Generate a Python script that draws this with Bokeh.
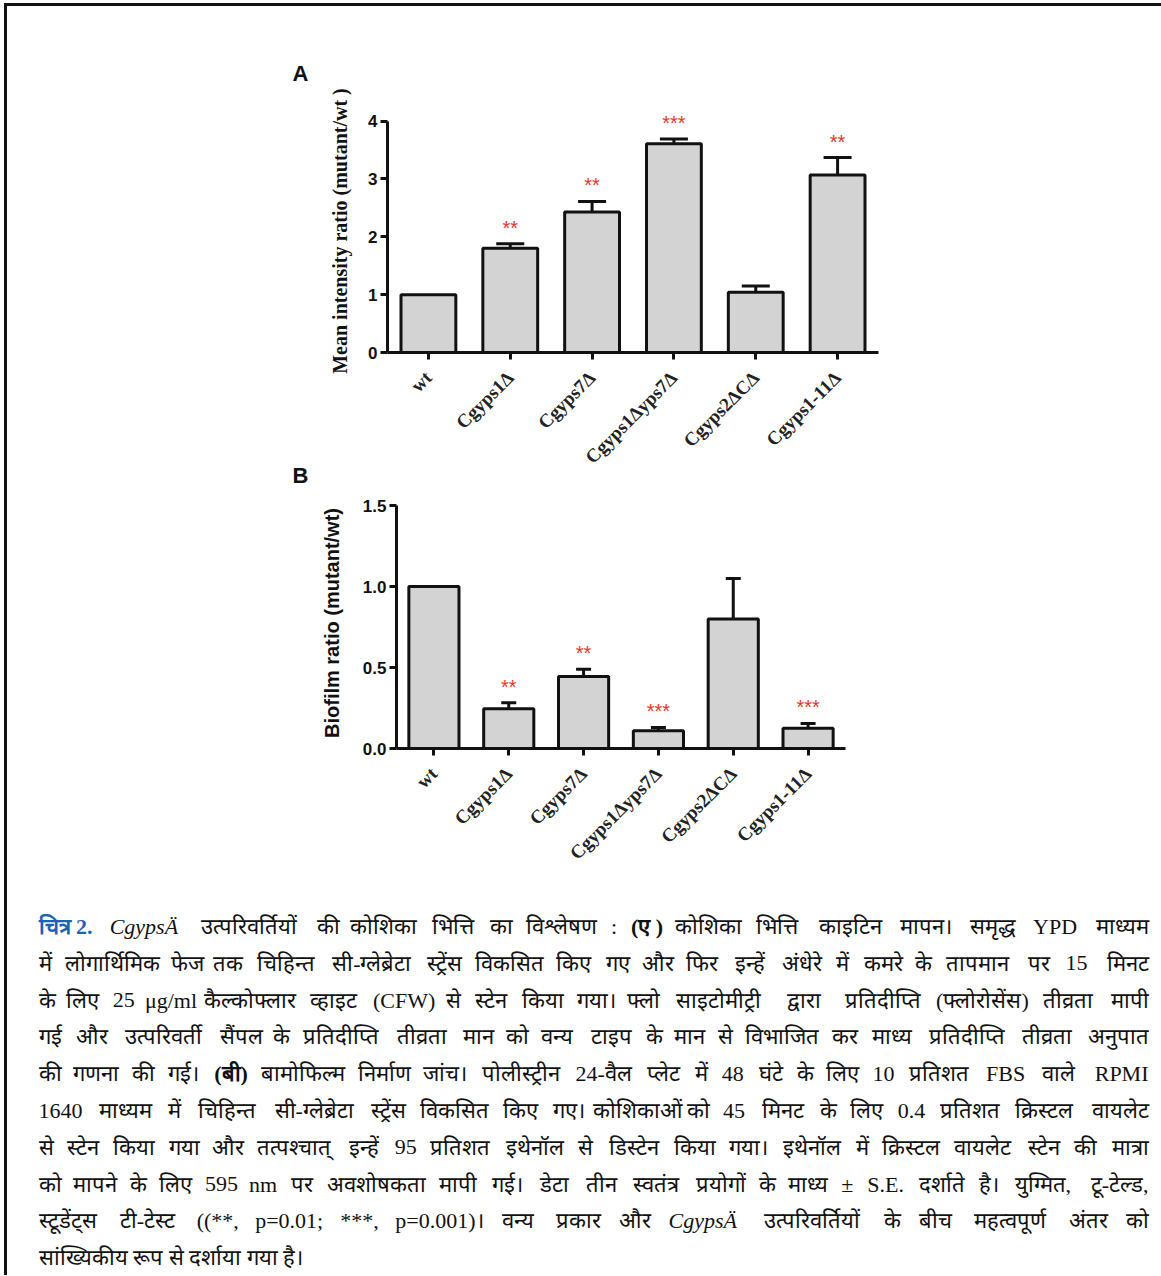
import math
import unicodedata
from bokeh.plotting import figure
from bokeh.models import (ColumnDataSource, FactorRange, Range1d, FixedTicker,
                          Whisker, TeeHead, Title, NumeralTickFormatter)
from bokeh.embed import file_html
from bokeh.resources import INLINE
from bokeh.core.properties import value

# ---------------- data ----------------
strains = ["wt", "Cgyps1Δ", "Cgyps7Δ", "Cgyps1Δyps7Δ", "Cgyps2ΔCΔ", "Cgyps1-11Δ"]

chitin_mean = [1.00, 1.80, 2.43, 3.61, 1.04, 3.07]
chitin_se = [0.0, 0.08, 0.18, 0.08, 0.11, 0.30]
chitin_sig = ["", "**", "**", "***", "", "**"]
chitin_ticks = [0, 1, 2, 3, 4]

biofilm_mean = [1.00, 0.245, 0.445, 0.11, 0.80, 0.125]
biofilm_se = [0.0, 0.037, 0.044, 0.02, 0.25, 0.03]
biofilm_sig = ["", "**", "**", "***", "", "***"]
biofilm_ticks = [0.0, 0.5, 1.0, 1.5]

# caption lines: (text, style) segments; all but the last line are justified
cap_lines = [
    [("चित्र\u00a02.", "blue"), ("CgypsÄ", "italic"),
     ("उत्परिवर्तियों की कोशिका भित्ति का विश्लेषण :", "normal"), ("(ए\u00a0)", "bold"),
     ("कोशिका भित्ति काइटिन मापन। समृद्ध YPD माध्यम", "normal")],
    [("में लोगार्थिमिक फेज तक चिहिन्त सी-ग्लेब्रेटा स्ट्रेंस विकसित किए गए और फिर इन्हें अंधेरे में कमरे के तापमान पर 15 मिनट", "normal")],
    [("के लिए 25 μg/ml कैल्कोफ्लार व्हाइट (CFW) से स्टेन किया गया। फ्लो साइटोमीट्री द्वारा प्रतिदीप्ति (फ्लोरोसेंस) तीव्रता मापी", "normal")],
    [("गई और उत्परिवर्ती सैंपल के प्रतिदीप्ति तीव्रता मान को वन्य टाइप के मान से विभाजित कर माध्य प्रतिदीप्ति तीव्रता अनुपात", "normal")],
    [("की गणना की गई।", "normal"), ("(बी)", "bold"),
     ("बामोफिल्म निर्माण जांच। पोलीस्ट्रीन 24-वैल प्लेट में 48 घंटे के लिए 10 प्रतिशत FBS वाले RPMI", "normal")],
    [("1640 माध्यम में चिहिन्त सी-ग्लेब्रेटा स्ट्रेंस विकसित किए गए। कोशिकाओं को 45 मिनट के लिए 0.4 प्रतिशत क्रिस्टल वायलेट", "normal")],
    [("से स्टेन किया गया और तत्पश्चात् इन्हें 95 प्रतिशत इथेनॉल से डिस्टेन किया गया। इथेनॉल में क्रिस्टल वायलेट स्टेन की मात्रा", "normal")],
    [("को मापने के लिए 595 nm पर अवशोषकता मापी गई। डेटा तीन स्वतंत्र प्रयोगों के माध्य ± S.E. दर्शाते है। युग्मित, टू-टेल्ड,", "normal")],
    [("स्टूडेंट्स टी-टेस्ट ((**, p=0.01; ***, p=0.001)। वन्य प्रकार और", "normal"), ("CgypsÄ", "italic"),
     ("उत्परिवर्तियों के बीच महत्वपूर्ण अंतर को", "normal")],
    [("सांख्यिकीय रूप से दर्शाया गया है।", "normal")],
]

W = 1161
INK = "#111111"
FRAME_TOP = "inset 4px 3px 0 0 #ffffff, inset 7px 6px 0 0 #111111"
FRAME_LEFT = "inset 4px 0 0 0 #ffffff, inset 7px 0 0 0 #111111"


def bar_panel(letter, ylabel, ylabel_font, ylabel_size, means, ses, sigs, ticks,
              y_top, height, b_left, b_top, b_bottom, frame_w, cap_size, err_w,
              title_standoff, title_offset, label_standoff, fmt, styles):
    b_right = W - b_left - frame_w
    p = figure(x_range=FactorRange(factors=strains), y_range=Range1d(0, y_top),
               width=W, height=height, min_border_left=b_left, min_border_right=b_right,
               min_border_top=b_top, min_border_bottom=b_bottom,
               output_backend="svg", toolbar_location=None, tools="",
               styles=styles)
    p.background_fill_color = None
    p.border_fill_color = None
    p.outline_line_color = None
    p.xgrid.visible = False
    p.ygrid.visible = False

    src = ColumnDataSource(dict(
        x=strains, top=means,
        upper=[m + s for m, s in zip(means, ses)],
        sig=sigs))
    p.vbar(x="x", top="top", width=0.67, source=src, fill_color="#d3d3d3",
           line_color=INK, line_width=3)

    idx = [i for i, s in enumerate(ses) if s > 0]
    wsrc = ColumnDataSource(dict(
        x=[strains[i] for i in idx],
        upper=[means[i] + ses[i] for i in idx],
        lower=[means[i] - ses[i] for i in idx]))
    p.add_layout(Whisker(source=wsrc, base="x", upper="upper", lower="lower",
                         line_color=INK, line_width=err_w,
                         upper_head=TeeHead(size=cap_size, line_width=err_w, line_color=INK),
                         lower_head=TeeHead(size=cap_size, line_width=err_w, line_color=INK)))

    p.text(x="x", y="upper", text="sig", source=src, text_align="center",
           text_baseline="middle", text_color="#e5392e",
           text_font=value("Liberation Sans"), text_font_size="20px", y_offset=-16)

    ya = p.yaxis[0]
    ya.ticker = FixedTicker(ticks=ticks)
    ya.bounds = (0, ticks[-1])
    ya.formatter = fmt
    ya.minor_tick_line_color = None
    ya.major_tick_in = 0
    ya.major_tick_out = 7
    ya.major_tick_line_width = 3
    ya.major_tick_line_color = INK
    ya.axis_line_width = 3
    ya.axis_line_color = INK
    ya.major_label_standoff = 3
    ya.major_label_text_font = "Liberation Sans"
    ya.major_label_text_font_style = "bold"
    ya.major_label_text_font_size = "17px"
    ya.major_label_text_color = INK
    ya.axis_label = ylabel
    ya.axis_label_text_font = ylabel_font
    ya.axis_label_text_font_style = "bold"
    ya.axis_label_text_font_size = ylabel_size
    ya.axis_label_text_color = INK
    ya.axis_label_standoff = label_standoff

    xa = p.xaxis[0]
    xa.axis_line_width = 3
    xa.axis_line_color = INK
    xa.major_tick_in = 0
    xa.major_tick_out = 7
    xa.major_tick_line_width = 3
    xa.major_tick_line_color = INK
    xa.major_label_orientation = math.pi / 4
    xa.major_label_standoff = 15
    xa.major_label_text_font = "Liberation Serif"
    xa.major_label_text_font_style = "bold"
    xa.major_label_text_font_size = "19px"
    xa.major_label_text_color = "#222222"

    p.add_layout(Title(text=letter, align="left", offset=title_offset,
                       standoff=title_standoff, text_font="Liberation Sans",
                       text_font_style="bold", text_font_size="22px",
                       text_color=INK), "above")
    return p


pa = bar_panel("A", "Mean intensity ratio (mutant/wt )", "Liberation Serif", "20px",
               chitin_mean, chitin_se, chitin_sig, chitin_ticks,
               y_top=4.2, height=477, b_left=387, b_top=109, b_bottom=124, frame_w=491,
               cap_size=28, err_w=3, title_standoff=47, title_offset=-95,
               label_standoff=14, fmt=NumeralTickFormatter(format="0"),
               styles={"box-shadow": FRAME_TOP})

pb = bar_panel("B", "Biofilm ratio (mutant/wt)", "Liberation Sans", "20px",
               biofilm_mean, biofilm_se, biofilm_sig, biofilm_ticks,
               y_top=1.55, height=429, b_left=396, b_top=42, b_bottom=132, frame_w=449,
               cap_size=15, err_w=3, title_standoff=19, title_offset=-104,
               label_standoff=17, fmt=NumeralTickFormatter(format="0.0"),
               styles={"margin-top": "-26px", "box-shadow": FRAME_LEFT})

# ---------------- caption ----------------
CAP_TOP = 880
CAP_H = 395
pc = figure(width=W, height=CAP_H, x_range=Range1d(0, W), y_range=Range1d(CAP_TOP + CAP_H, CAP_TOP),
            min_border=0, x_axis_location=None, y_axis_location=None,
            output_backend="svg", toolbar_location=None, tools="",
            styles={"box-shadow": FRAME_LEFT})
pc.outline_line_color = None
pc.xgrid.visible = False
pc.ygrid.visible = False
pc.background_fill_color = None
pc.border_fill_color = None

VIRAMA = "\u094d"
RA = "\u0930"


def units(word):
    """rough advance width of a word, in Devanagari-consonant units"""
    u = 0.0
    n = len(word)
    for i, ch in enumerate(word):
        cat = unicodedata.category(ch)
        if "\u0900" <= ch <= "\u097f":
            if ch == VIRAMA:
                prev = word[i - 1] if i > 0 else ""
                nxt = word[i + 1] if i + 1 < n else ""
                if prev == RA:
                    u -= 1.0          # reph
                elif nxt == RA:
                    u -= 1.0          # rakar: following ra becomes a stroke
                elif nxt and unicodedata.category(nxt) == "Lo":
                    u -= 0.4          # half form
                continue
            if ch == "\u0964":
                u += 0.47
            elif cat == "Mn":
                continue
            elif cat == "Mc":
                u += 0.45
            else:
                u += 1.0
        elif ch.isdigit():
            u += 0.79
        elif ch.isupper():
            u += 1.07
        elif ch in "iljtfr":
            u += 0.42
        elif ch in "mw":
            u += 1.1
        elif ch.isalpha():
            u += 0.72
        elif ch in ".,:;/\u00a0":
            u += 0.38
        elif ch in "()-":
            u += 0.47
        else:
            u += 0.8
    return max(u, 0.3)


K = 14.0                       # px per unit at the caption size
x_left, x_right = 38, 1148
line_y0, line_gap = 926, 36.8
words = {"x": [], "y": [], "t": [], "align": [], "style": []}
for li, segs in enumerate(cap_lines):
    toks = []
    for text, st in segs:
        for w in text.split(" "):
            if w:
                toks.append((w, st))
    y = line_y0 + line_gap * li
    if li == len(cap_lines) - 1:
        words["x"].append(x_left); words["y"].append(y)
        words["t"].append(" ".join(t for t, _ in toks))
        words["align"].append("left"); words["style"].append("normal")
        continue
    ws = [units(w) * K for w, _ in toks]
    gap = (x_right - x_left - sum(ws)) / (len(toks) - 1)
    pos = x_left
    for k, ((w, st), wd) in enumerate(zip(toks, ws)):
        if k == 0:
            x, al = x_left, "left"
        elif k == len(toks) - 1:
            x, al = x_right, "right"
        else:
            x, al = pos + wd / 2, "center"
        words["x"].append(x); words["y"].append(y); words["t"].append(w)
        words["align"].append(al); words["style"].append(st)
        pos += wd + gap

styles = {
    "normal": dict(text_color=INK, text_font_style="normal"),
    "bold": dict(text_color=INK, text_font_style="bold"),
    "italic": dict(text_color=INK, text_font_style="italic"),
    "blue": dict(text_color="#1d63b3", text_font_style="bold"),
}
for st, kw in styles.items():
    for al in ("left", "center", "right"):
        ids = [i for i in range(len(words["t"])) if words["style"][i] == st and words["align"][i] == al]
        if not ids:
            continue
        csrc = ColumnDataSource(dict(
            x=[words["x"][i] for i in ids],
            y=[words["y"][i] for i in ids],
            t=[words["t"][i] for i in ids]))
        pc.text(x="x", y="y", text="t", source=csrc, text_align=al,
                text_baseline="middle", text_font=value("Liberation Serif"),
                text_font_size="22px", **kw)

p = [pa, pb, pc]
open("out.html", "w").write(file_html(p, INLINE))
